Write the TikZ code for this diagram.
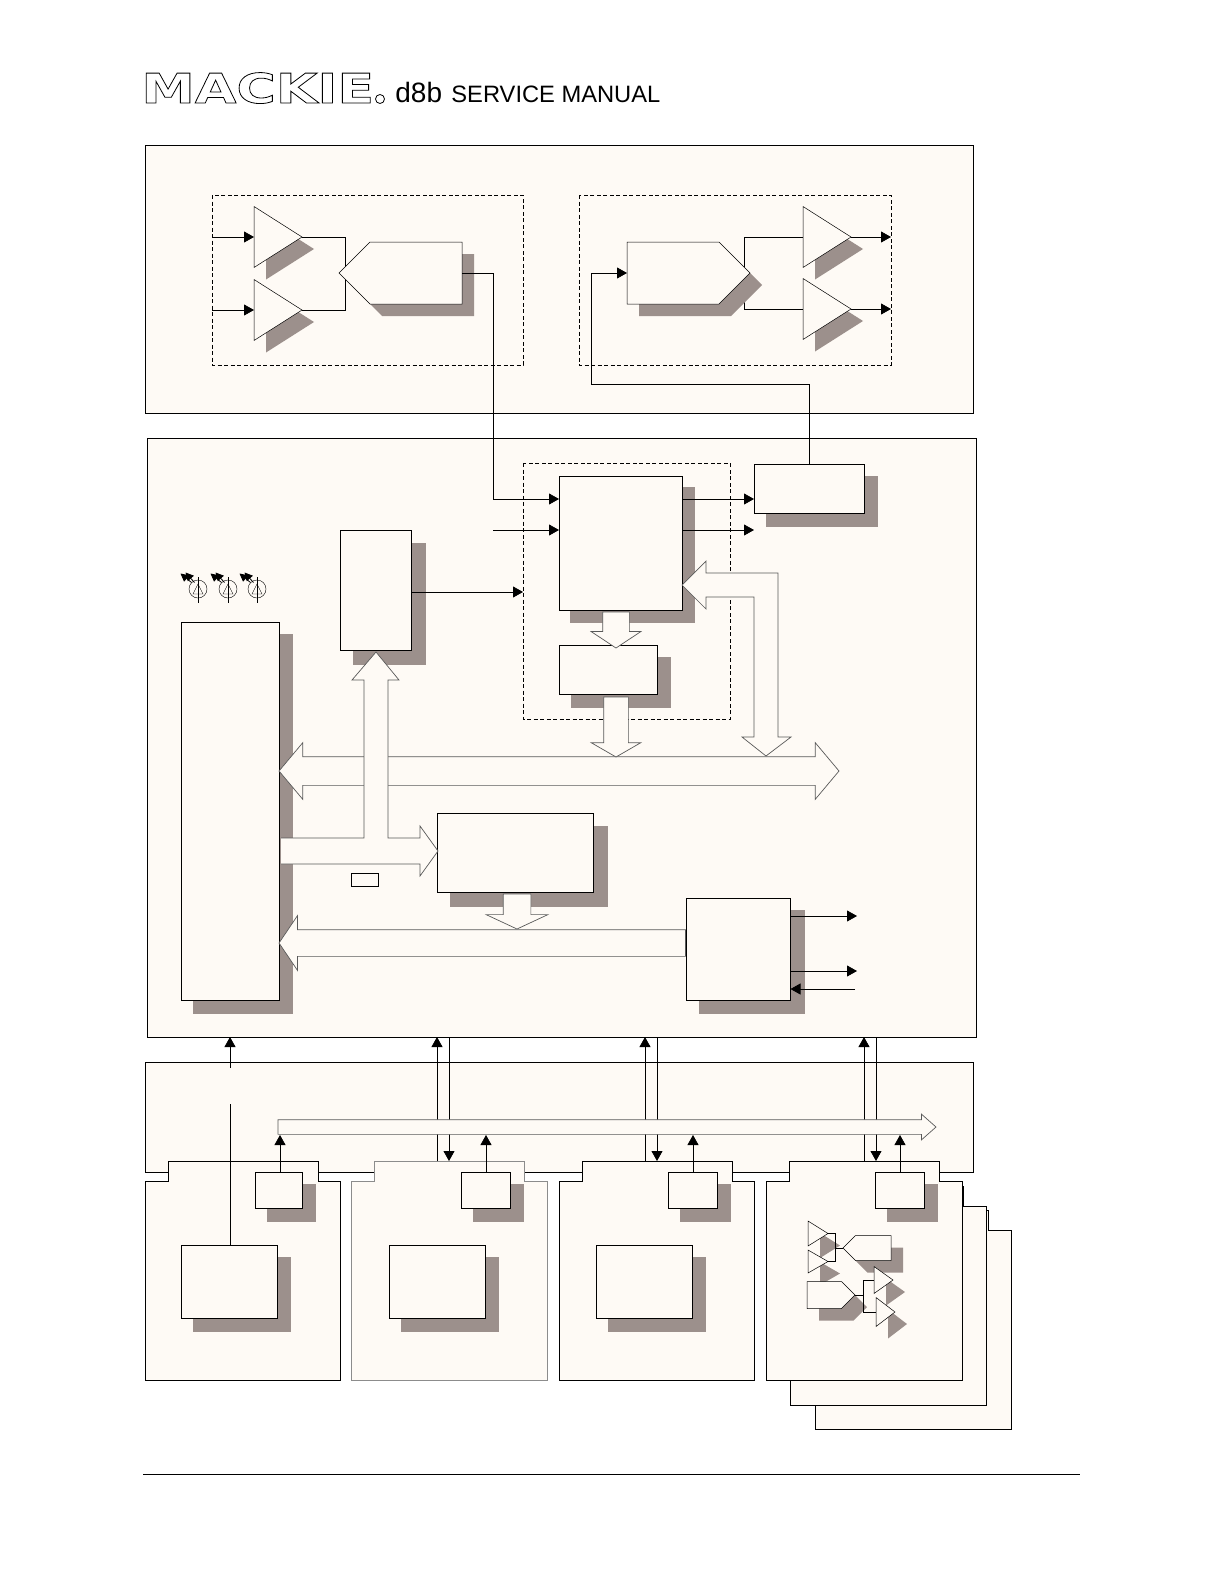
\documentclass[tikz,border=0pt]{standalone}
\usepackage{fontspec}
\setmainfont{Liberation Sans}
\newfontfamily\logofont[BoldFont={DejaVu Sans Bold},BoldFeatures={FakeStretch=1.31}]{DejaVu Sans}
\usetikzlibrary{arrows.meta,shapes.geometric,shapes.symbols,shapes.arrows,shadows}
\definecolor{paper}{HTML}{FEFAF5}
\definecolor{shade}{HTML}{9C908C}

\begin{document}
\begin{tikzpicture}[
      x=1pt, y=-1pt, line width=0.8pt,
      panel/.style={draw, fill=paper, anchor=north west, inner sep=0pt, outer sep=0pt},
      blk/.style={panel, drop shadow={shadow xshift=#1, shadow yshift=-#1, fill=shade, draw=shade, line width=2pt, opacity=1}},
      blk/.default=13pt,
      box/.style={draw, dash pattern=on 4pt off 2.5pt},
      wire/.style={line width=0.8pt},
      go/.style={wire, -{Triangle[length=10pt,width=11pt]}},
      amp/.style={draw, fill=paper, isosceles triangle, isosceles triangle stretches, anchor=lower side,
                  inner sep=0pt, outer sep=0pt, line width=0.5pt,
                  drop shadow={shadow xshift=12pt, shadow yshift=-12pt, fill=shade, opacity=1}},
      conv/.style={draw, fill=paper, signal, signal pointer angle=90, signal from=nowhere,
                  inner sep=0pt, outer sep=0pt, line width=0.5pt,
                  drop shadow={shadow xshift=12pt, shadow yshift=-12pt, fill=shade, opacity=1}},
      fat/.style={draw=black!65, fill=paper, line width=0.7pt, inner xsep=0pt, outer sep=0pt},
      down/.style={fat, single arrow, anchor=tip, shape border rotate=270, inner ysep=0pt},
      card/.style={draw, fill=paper},
    ]
    \useasboundingbox (0,0) rectangle (1224,1584);

    % page head and foot
    \node[anchor=base west, inner sep=0pt, font=\logofont\bfseries\fontsize{41}{41}\selectfont] (logo) at (141,103)
      {\special{pdf:literal direct 1 Tr 0.8 w}MACKIE\special{pdf:literal direct 0 Tr}};
    \node[draw, circle, inner sep=0pt, minimum size=9pt] (reg) at (380,99) {};
    \node[anchor=base west, inner sep=0pt, font=\fontsize{28}{28}\selectfont] (model) at (395,103) {d8b};
    \node[anchor=base west, inner sep=0pt, font=\fontsize{23.7}{24}\selectfont] (title) at (451,103) {SERVICE MANUAL};
    \coordinate (footl) at (143,1474);
    \coordinate (footr) at (1080,1474);
    \draw[wire] (footl) -- (footr);

    % the three panels
    \node[panel, minimum width=828, minimum height=268] (top) at (145,145) {};
    \node[panel, minimum width=829, minimum height=599] (main) at (147,438) {};
    \node[panel, minimum width=828, minimum height=110] (back) at (145,1062) {};

    % cards
    \foreach \n/\xa/\ya/\w/\col in {six/815/1230/196/black,five/790/1206/196/black,one/145/1181/195/black,two/351/1181/196/black!45,three/559/1181/195/black,four/766/1181/196/black}{
      \draw[card, draw=\col] (\xa,\ya) -- ++(23,0) -- ++(0,-20) -- ++(150,0) -- ++(0,20) -- ++(\w-173,0)
        -- ++(0,199) -- ++(-\w,0) -- cycle;
    }

    % converter groups
    \draw[box] (212,195) rectangle (523,365);
    \draw[box] (579,195) rectangle (891,365);
    \draw[box] (523,463) rectangle (730,719);

    \coordinate (ina) at (212,237);
    \coordinate (inb) at (212,310);
    \coordinate (outa) at (891,237);
    \coordinate (outb) at (891,309);
    \node[amp, minimum height=48, minimum width=61] (ampa) at (254,237) {};
    \node[amp, minimum height=48, minimum width=61] (ampb) at (254,310) {};
    \node[amp, minimum height=48, minimum width=61] (ampc) at (803,237) {};
    \node[amp, minimum height=48, minimum width=61] (ampd) at (803,309) {};
    \coordinate (adcin) at (345,273);
    \coordinate (dacout) at (744,273);
    \draw[wire] (ampa.apex) -| (adcin);
    \draw[wire] (ampb.apex) -| (adcin);
    \draw[wire] (dacout) |- (ampc.lower side);
    \draw[wire] (dacout) |- (ampd.lower side);
    \node[conv, signal to=west, minimum width=123, minimum height=62, anchor=west] (adc) at (339,273) {};
    \node[conv, signal to=east, minimum width=123, minimum height=62, anchor=east] (dac) at (750,273) {};
    \draw[go] (ina) -- (ampa.lower side);
    \draw[go] (inb) -- (ampb.lower side);
    \draw[go] (ampc.apex) -- (outa);
    \draw[go] (ampd.apex) -- (outb);

    % blocks of the main board
    \node[blk, minimum width=98, minimum height=378] (host) at (181,622) {};
    \node[blk=14pt, minimum width=71, minimum height=120] (mem) at (340,530) {};
    \node[blk=12pt, minimum width=123, minimum height=134] (dsp) at (559,476) {};
    \node[blk, minimum width=98, minimum height=49] (ram) at (559,645) {};
    \node[blk, minimum width=110, minimum height=49] (out) at (754,464) {};
    \node[blk=13.5pt, minimum width=156, minimum height=79] (ctrl) at (437,813) {};
    \node[blk, minimum width=104, minimum height=102] (midi) at (686.5,898) {};
    \node[panel, minimum width=27, minimum height=13] (clk) at (351,873) {};

    % wires between blocks
    \coordinate (adcbus) at (493,273);
    \coordinate (extin) at (493,530);
    \coordinate (adcbend) at (493,499);
    \coordinate (dspa) at (754,499);
    \coordinate (dspb) at (754,530);
    \coordinate (feed) at (591,384);
    \coordinate (memout) at (523,592);
    \draw[wire] (adc.east |- adcbus) -- (adcbus) -- (adcbend);
    \draw[go] (adcbend) -- (dsp.west |- adcbend);
    \draw[go] (extin) -- (dsp.west |- extin);
    \draw[go] (dsp.east |- dspa) -- (dspa);
    \draw[go] (dsp.east |- dspb) -- (dspb);
    \draw[go] (mem.east |- memout) -- (memout);
    \draw[go] (out.north) |- (feed) |- (dac.west);

    \coordinate (mida) at (857,916);
    \coordinate (midb) at (857,971);
    \coordinate (midc) at (855,989);
    \draw[go] (midi.east |- mida) -- (mida);
    \draw[go] (midi.east |- midb) -- (midb);
    \draw[go] (midc) -- (midi.east |- midc);

    % status lamps
    \foreach \x in {198,228,257}{
      \node[draw, circle, inner sep=0pt, minimum size=18pt, line width=0.4pt] (led\x) at (\x,589) {};
      \draw[line width=0.4pt] (\x,577) -- (\x,603);
      \draw[line width=0.4pt] (\x-5,594) -- (\x+5,594) -- (\x,584) -- cycle;
      \draw[wire, -{Triangle[length=8pt,width=8pt]}] (led\x.north west) -- ++(-11,-9);
      \draw[wire, -{Triangle[length=8pt,width=8pt]}] ([xshift=3pt]led\x.north west) -- ++(-9,-10);
    }

    % wide arrows
    \node[fat, double arrow, double arrow head extend=14, double arrow tip angle=100, inner ysep=14,
          minimum width=56, minimum height=560] (bus) at (559,771) {};
    \draw[fat] (281,864) -- (420,864) -- (420,876) -- (438,851) -- (420,826) -- (420,838) -- (388,838)
      -- (388,680) -- (399,680) -- (376,652) -- (352,680) -- (364,680) -- (364,838) -- (281,838);
    \draw[fat] (682,585) -- (706,561) -- (706,573) -- (778,573) -- (778,737) -- (791,737) -- (766,756)
      -- (742,737) -- (754,737) -- (754,597) -- (706,597) -- (706,609) -- cycle;
    \node[down, inner xsep=13, single arrow head extend=11.5, single arrow tip angle=113, minimum width=49, minimum height=36] (dspdown) at (616,648) {};
    \node[down, inner xsep=12, single arrow head extend=12.5, single arrow tip angle=120, minimum width=49, minimum height=60] (ramdown) at (616,757) {};
    \node[down, inner xsep=13.5, single arrow head extend=17, single arrow tip angle=130, minimum width=61, minimum height=35] (ctrldown) at (517,929) {};
    \node[fat, single arrow, anchor=tip, shape border rotate=180, inner ysep=13, single arrow head extend=14, single arrow tip angle=112,
          minimum width=54, minimum height=406.5] (midibus) at (279,943) {};

    % card contents
    \foreach \n/\xa in {one/181,two/389,three/596}{
      \node[blk, minimum width=96, minimum height=73] (conv\n) at (\xa,1245) {};
    }
    \foreach \n/\xb/\w/\xt in {one/255/47/280,two/461/49/486,three/668/49/693,four/875/49/900}{
      \node[blk, minimum width=\w, minimum height=36] (port\n) at (\xb,1172) {};
      \coordinate (tap\n) at (\xt,1135);
    }
    % pairs between board and cards
    \foreach \n/\u/\d in {two/437/449,three/645/657,four/864/876}{
      \coordinate (upa\n) at (\u,1161);
      \coordinate (upb\n) at (\u,1037);
      \coordinate (dna\n) at (\d,1037);
      \coordinate (dnb\n) at (\d,1161);
      \draw[go] (upa\n) -- (upb\n);
      \draw[go] (dna\n) -- (dnb\n);
    }
    \coordinate (sync) at (230,1068);
    \coordinate (syncb) at (230,1037);
    \coordinate (syncc) at (230,1104);
    \draw[go] (sync) -- (syncb);
    \draw[wire] (syncc) -- (convone.north -| syncc);

    % backplane bus
    \node[fat, single arrow, anchor=tail, inner ysep=7, single arrow head extend=5.5, single arrow tip angle=83,
          minimum width=25, minimum height=658] (plane) at (278,1127) {};
    \foreach \n in {one,two,three,four}{
      \draw[go] (port\n.north -| tap\n) -- (tap\n);
    }

    % small circuit on the last card
    \begin{scope}[line width=0.5pt]
      \node[amp, minimum height=20, minimum width=25] (mamp) at (808,1233.5) {};
      \node[amp, minimum height=20, minimum width=23] (mampb) at (808,1261.5) {};
      \coordinate (mj) at (835.5,1248);
      \coordinate (mtop) at (863,1295);
      \draw (mamp.apex) -| (mj);
      \draw (mampb.apex) -| (mj);
      \node[conv, signal to=west, minimum width=48, minimum height=25, anchor=west] (madc) at (843,1248) {};
      \draw (mj) -- (madc.west);
      \node[conv, signal to=east, minimum width=48, minimum height=27, anchor=east] (mdac) at (855,1295) {};
      \node[amp, minimum height=19, minimum width=27] (mampc) at (874,1280) {};
      \node[amp, minimum height=19, minimum width=29] (mampd) at (876,1312) {};
      \draw (mdac.east) -- (mtop);
      \draw (mtop) |- (mampc.lower side);
      \draw (mtop) |- (mampd.lower side);
    \end{scope}
  \end{tikzpicture}
\end{document}
